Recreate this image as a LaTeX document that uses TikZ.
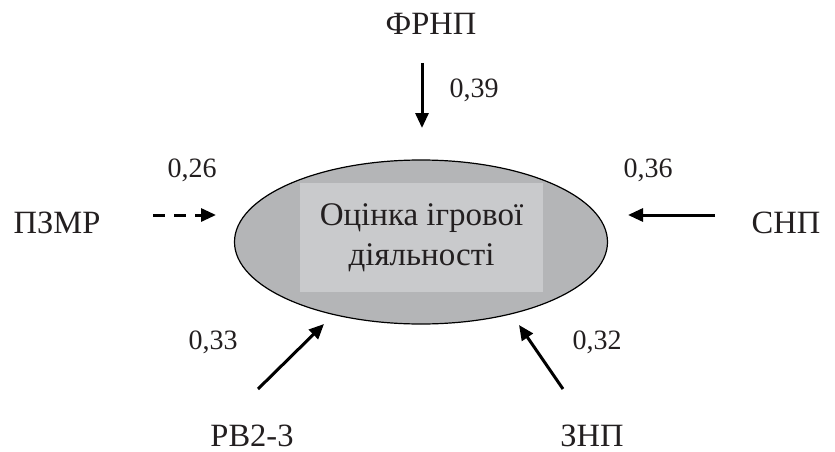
\documentclass[tikz,border=0pt]{standalone}
\usepackage{fontspec}
\setmainfont{Liberation Serif}
\usetikzlibrary{shapes.geometric,arrows.meta}
\definecolor{ellfill}{RGB}{180,181,183}
\definecolor{boxfill}{RGB}{201,202,204}
\definecolor{txt}{RGB}{35,31,32}
\tikzset{
  lbl/.style={font=\fontsize{32.5}{36}\selectfont, text=txt, inner sep=0pt, anchor=base, text depth=0pt},
  num/.style={font=\fontsize{28}{32}\selectfont, text=txt, inner sep=0pt, anchor=base},
  conn/.style={line width=3pt, -{Triangle[length=15pt,width=13pt]}},
  dconn/.style={conn, dash pattern=on 12pt off 9pt},
}
\begin{document}
\begin{tikzpicture}[x=1pt,y=-1pt]
\path[use as bounding box] (0,0) rectangle (835,452);
\node[ellipse, draw=black, line width=1.2pt, fill=ellfill, minimum width=373pt, minimum height=164pt, inner sep=0pt] (ell) at (421,242) {};
\node[fill=boxfill, minimum width=243pt, minimum height=109pt, inner sep=0pt, align=center,
  font=\fontsize{33}{40}\selectfont, text=txt] (box) at (421.5,237.5) {Оцінка ігрової\\діяльності};
% labels
\node[lbl] (frnp) at (431,35) {ФРНП};
\node[lbl] (pzmr) at (57,233) {ПЗМР};
\node[lbl] (snp) at (786,233) {СНП};
\node[lbl] (rv) at (252,446) {РВ2-3};
\node[lbl] (znp) at (592,446) {ЗНП};
% numbers
\node[num] (n39) at (474,97) {0,39};
\node[num] (n26) at (192,177) {0,26};
\node[num] (n36) at (648,177) {0,36};
\node[num] (n33) at (213,349) {0,33};
\node[num] (n32) at (597,349) {0,32};
% arrow ends
\coordinate (t1) at (422,63);  \coordinate (h1) at (422,128);
\coordinate (t2) at (153,215); \coordinate (h2) at (216,215);
\coordinate (t3) at (715,215); \coordinate (h3) at (628,215);
\coordinate (t4) at (258,389); \coordinate (h4) at (324,324);
\coordinate (t5) at (563,389); \coordinate (h5) at (519,325);
\draw[conn] (t1) -- (h1);
\draw[dconn] (t2) -- (h2);
\draw[conn] (t3) -- (h3);
\draw[conn] (t4) -- (h4);
\draw[conn] (t5) -- (h5);
\end{tikzpicture}
\end{document}
